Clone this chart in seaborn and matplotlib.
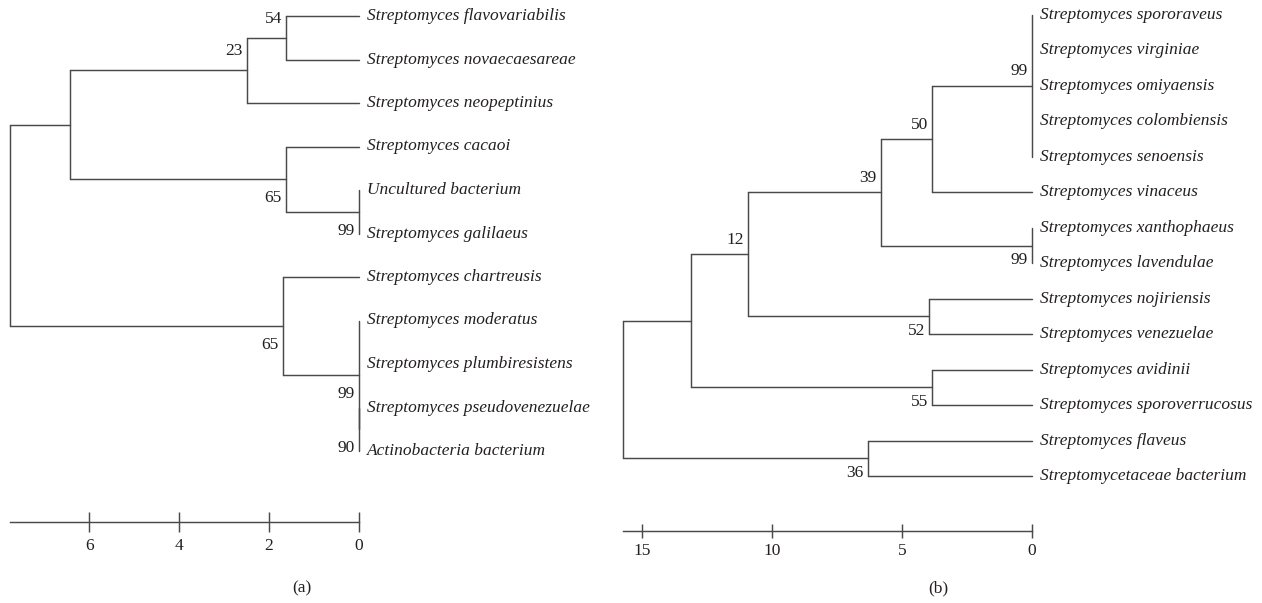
import matplotlib
matplotlib.use("Agg")
import matplotlib.pyplot as plt
import numpy as np
import pandas as pd
import seaborn as sns

# ---------------- data: panel (a) ----------------
leaves_a = [
    "Streptomyces flavovariabilis", "Streptomyces novaecaesareae",
    "Streptomyces neopeptinius", "Streptomyces cacaoi",
    "Uncultured bacterium", "Streptomyces galilaeus",
    "Streptomyces chartreusis", "Streptomyces moderatus",
    "Streptomyces plumbiresistens", "Streptomyces pseudovenezuelae",
    "Actinobacteria bacterium",
]
# internal nodes (children refer to leaf indices, then node indices n, n+1, ...)
children_a = [(0, 1), (11, 2), (4, 5), (3, 13), (12, 14), (9, 10), (7, 8, 16), (6, 17), (15, 18)]
heights_a = [1.62, 2.49, 0.0, 1.62, 6.42, 0.0, 0.0, 1.69, 7.76]
support_a = ["54", "23", "99", "65", "", "90", "99", "65", ""]
side_a = ["above", "above", "below", "below", "", "below", "below", "below", ""]
ticks_a = [6, 4, 2, 0]

# ---------------- data: panel (b) ----------------
leaves_b = [
    "Streptomyces spororaveus", "Streptomyces virginiae",
    "Streptomyces omiyaensis", "Streptomyces colombiensis",
    "Streptomyces senoensis", "Streptomyces vinaceus",
    "Streptomyces xanthophaeus", "Streptomyces lavendulae",
    "Streptomyces nojiriensis", "Streptomyces venezuelae",
    "Streptomyces avidinii", "Streptomyces sporoverrucosus",
    "Streptomyces flaveus", "Streptomycetaceae bacterium",
]
children_b = [(0, 1, 2, 3, 4), (14, 5), (6, 7), (15, 16), (8, 9), (17, 18), (10, 11), (19, 20), (12, 13), (21, 22)]
heights_b = [0.0, 3.85, 0.0, 5.81, 3.96, 10.92, 3.85, 13.12, 6.31, 15.73]
support_b = ["99", "50", "99", "39", "52", "12", "55", "", "36", ""]
side_b = ["above", "above", "below", "above", "below", "above", "below", "", "below", ""]
ticks_b = [15, 10, 5, 0]

LINE = "#4a4a4a"
TEXT = "#231f20"

sns.set_theme(style="ticks")
plt.rcParams["font.family"] = ["Liberation Serif", "DejaVu Serif"]
plt.rcParams["text.color"] = TEXT
plt.rcParams["xtick.color"] = LINE
plt.rcParams["xtick.labelcolor"] = TEXT


def layout(leaves, children, heights):
    n = len(leaves)
    xs = [0.0] * n + list(heights)
    ys = list(np.arange(n, dtype=float)) + [0.0] * len(children)
    for i, ch in enumerate(children):
        cy = [ys[c] for c in ch]
        ys[n + i] = (min(cy) + max(cy)) / 2
    rows = []
    sid = 0
    for i, ch in enumerate(children):
        k = n + i
        cy = [ys[c] for c in ch]
        rows += [(sid, xs[k], min(cy)), (sid, xs[k], max(cy))]
        sid += 1
        for c in ch:
            rows += [(sid, xs[k], ys[c]), (sid, xs[c], ys[c])]
            sid += 1
    df = pd.DataFrame(rows, columns=["seg", "x", "y"])
    return xs, ys, df


W, H = 1262, 603
fig = plt.figure(figsize=(W / 100, H / 100), dpi=100)


def draw(rect, leaves, children, heights, support, side, ticks, ylim, boff, tlen, tpad):
    ax = fig.add_axes(rect)
    xs, ys, df = layout(leaves, children, heights)
    sns.lineplot(data=df, x="x", y="y", units="seg", estimator=None, sort=False,
                 color=LINE, lw=1.05, ax=ax, legend=False)
    for ln in ax.lines:
        ln.set_clip_on(False)
    n = len(leaves)
    ax.set_xlim(heights[-1], 0)
    ax.set_ylim(*ylim)
    for i, name in enumerate(leaves):
        ax.annotate(name, xy=(0, ys[i]), xytext=(5.8, 0), textcoords="offset points",
                    ha="left", va="center", fontsize=12.5, style="italic",
                    annotation_clip=False)
    for i, (s, sd) in enumerate(zip(support, side)):
        if not s:
            continue
        k = n + i
        dy = boff if sd == "above" else -boff
        ax.annotate(s, xy=(xs[k], ys[k]), xytext=(-3, dy), textcoords="offset points",
                    ha="right", va="center", fontsize=12.5, annotation_clip=False)
    ax.set_xticks(ticks)
    ax.set_xticklabels([str(t) for t in ticks])
    ax.set_yticks([])
    ax.set_xlabel("")
    ax.set_ylabel("")
    sns.despine(ax=ax, left=True)
    ax.spines["bottom"].set_color(LINE)
    ax.spines["bottom"].set_linewidth(1.05)
    ax.tick_params(axis="x", direction="inout", length=tlen, width=1.05,
                   pad=tpad, labelsize=12.5)
    ax.patch.set_alpha(0)
    return ax


# panel (a): tree from x=10 to 359 px, spine at y=522 px, leaves 16..451 px
sp_a = (451 - 16) / (len(leaves_a) - 1)
draw([10 / W, 1 - 522 / H, 349 / W, 522 / H], leaves_a, children_a, heights_a,
     support_a, side_a, ticks_a, ((522 - 16) / sp_a, -16 / sp_a), 13.7, 13.7, 5)

# panel (b): tree from x=623 to 1032 px, spine at y=531 px, leaves 15..476 px
sp_b = (476 - 15) / (len(leaves_b) - 1)
draw([623 / W, 1 - 531 / H, 409 / W, 531 / H], leaves_b, children_b, heights_b,
     support_b, side_b, ticks_b, ((531 - 15) / sp_b, -15 / sp_b), 10.5, 9.4, 4)

fig.text(302 / W, 1 - 588 / H, "(a)", ha="center", va="center", fontsize=12.5)
fig.text(938 / W, 1 - 588 / H, "(b)", ha="center", va="center", fontsize=12.5)

fig.savefig("out.png", dpi=100, facecolor="white")
